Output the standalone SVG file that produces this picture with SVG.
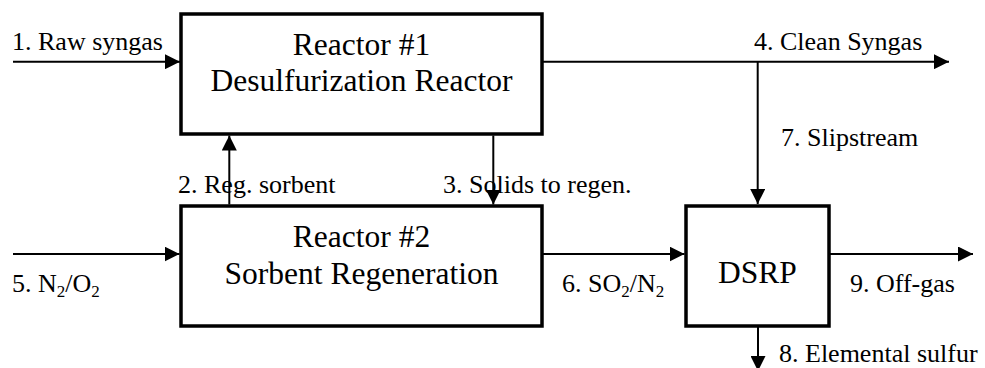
<svg xmlns="http://www.w3.org/2000/svg" width="985" height="368" viewBox="0 0 985 368">
<defs>
<style>
.box{fill:#fff;stroke:#000;stroke-width:3.5}
.ln{fill:none;stroke:#000;stroke-width:2;marker-end:url(#ah)}
.t{font-family:'Liberation Serif','Times New Roman',Tinos,'DejaVu Serif',serif;font-size:31.5px;fill:#000;text-anchor:middle}
.l{font-family:'Liberation Serif','Times New Roman',Tinos,'DejaVu Serif',serif;font-size:26px;fill:#000}
.sub{font-size:17px}
</style>
<marker id="ah" viewBox="0 0 15 15" refX="15" refY="7.5" markerWidth="15" markerHeight="15" markerUnits="userSpaceOnUse" orient="auto">
<path d="M0,0 L15,7.5 L0,15 z" fill="#000"/>
</marker>
</defs>
<rect width="985" height="368" fill="#fff"/>
<g id="reactor1">
<rect class="box" x="181" y="14" width="361" height="120"/>
<text class="t" x="361.5" y="55">Reactor #1</text>
<text class="t" x="361.5" y="91">Desulfurization Reactor</text>
</g>
<g id="reactor2">
<rect class="box" x="181" y="206" width="361" height="120"/>
<text class="t" x="361.5" y="246.7">Reactor #2</text>
<text class="t" x="361.5" y="283.5">Sorbent Regeneration</text>
</g>
<g id="dsrp">
<rect class="box" x="686" y="206" width="143" height="120"/>
<text class="t" x="757.5" y="283">DSRP</text>
</g>
<g id="connectors">
<path class="ln" d="M13,61.7 H180"/>
<path class="ln" d="M542,61.7 H949"/>
<path class="ln" d="M757.7,61.7 V204"/>
<path class="ln" d="M229.3,204.5 V135.5"/>
<path class="ln" d="M493.3,135.5 V204.5"/>
<path class="ln" d="M13,254 H179.5"/>
<path class="ln" d="M543,254 H684.5"/>
<path class="ln" d="M830,254 H973"/>
<path class="ln" d="M758,327 V371"/>
</g>
<g id="labels">
<text class="l" x="12" y="50">1. Raw syngas</text>
<text class="l" x="754" y="50">4. Clean Syngas</text>
<text class="l" x="781" y="146">7. Slipstream</text>
<text class="l" x="178" y="193">2. Reg. sorbent</text>
<text class="l" x="443" y="193">3. Solids to regen.</text>
<text class="l" x="12" y="292">5. N<tspan class="sub" dy="5">2</tspan><tspan dy="-5">/O</tspan><tspan class="sub" dy="5">2</tspan></text>
<text class="l" x="562" y="292">6. SO<tspan class="sub" dy="5">2</tspan><tspan dy="-5">/N</tspan><tspan class="sub" dy="5">2</tspan></text>
<text class="l" x="850" y="292">9. Off-gas</text>
<text class="l" x="779" y="362">8. Elemental sulfur</text>
</g>
</svg>
